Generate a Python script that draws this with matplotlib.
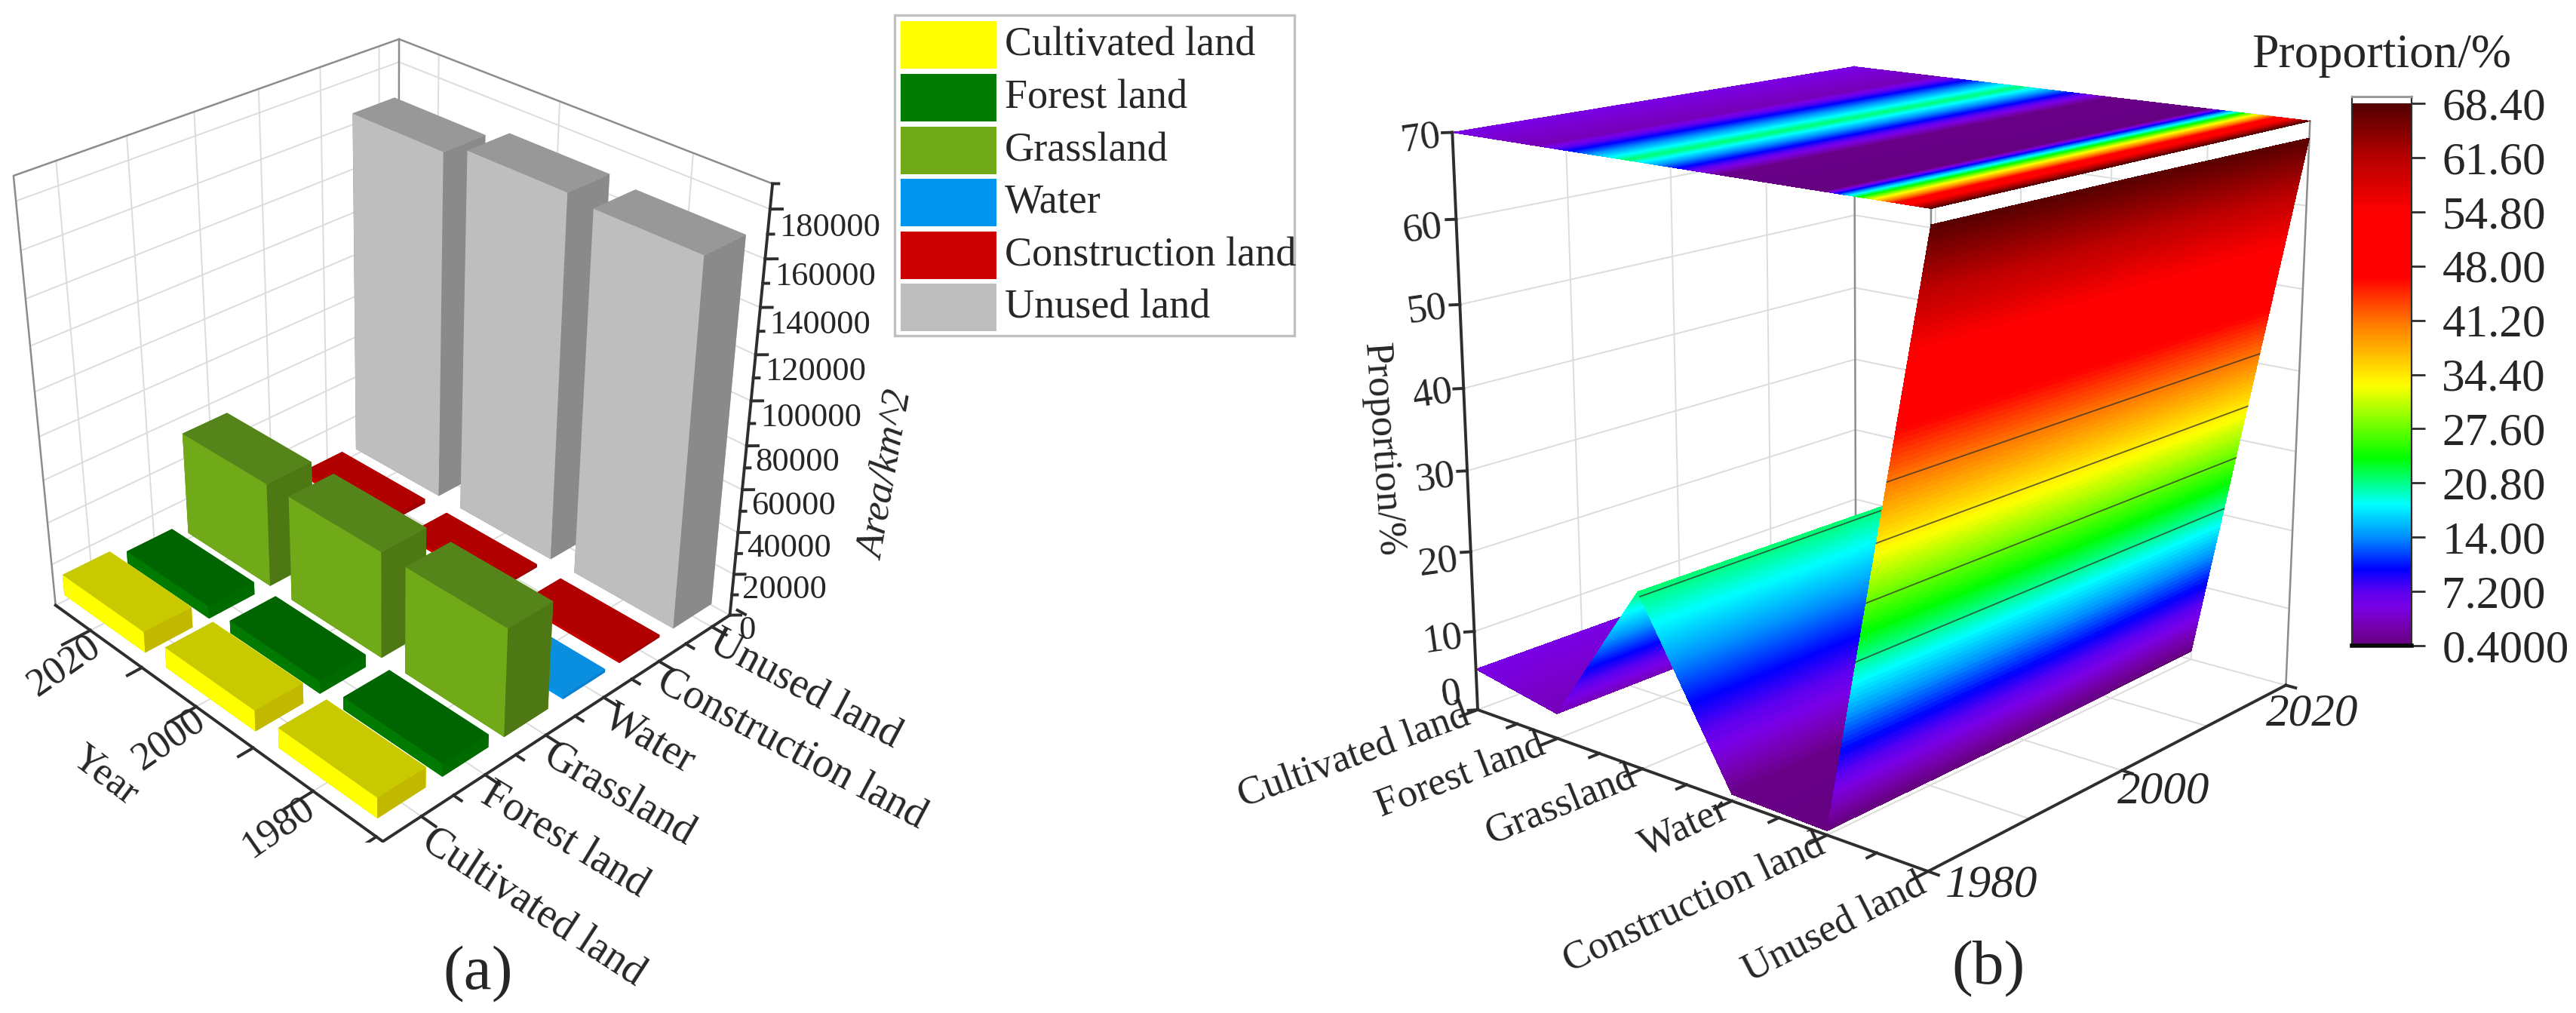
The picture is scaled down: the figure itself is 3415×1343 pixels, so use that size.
import numpy as np
import matplotlib
matplotlib.use('Agg')
import matplotlib.pyplot as plt
from matplotlib.colors import LinearSegmentedColormap, Normalize
from matplotlib.patches import Rectangle

plt.rcParams['font.family'] = ['Liberation Serif', 'DejaVu Serif']

W, H = 3416, 1343
TXT = '#262626'

# values
land = ['Cultivated land', 'Forest land', 'Grassland', 'Water', 'Construction land', 'Unused land']
years = [1980, 2000, 2020]

cultivated = [9500, 9800, 10000]
forest = [6000, 6000, 6000]
grassland = [50000, 50000, 49500]
water = [1500, 1500, 1600]
construction = [1200, 1500, 2200]
unused = [166000, 168000, 163000]

prop_1980 = [5.2, 3.1, 21.3, 0.8, 0.5, 68.4]
prop_2000 = [5.2, 3.1, 21.2, 0.8, 0.6, 68.3]
prop_2020 = [5.3, 3.1, 21.0, 0.9, 1.1, 68.0]

area_ticks = list(range(0, 180001, 20000))
prop_ticks = [0, 10, 20, 30, 40, 50, 60, 70]
bar_ticks = [68.40, 61.60, 54.80, 48.00, 41.20, 34.40, 27.60, 20.80, 14.00, 7.200, 0.4000]
bar_labels = ['68.40', '61.60', '54.80', '48.00', '41.20', '34.40', '27.60', '20.80', '14.00', '7.200', '0.4000']
contours = [20.8, 27.6, 34.4, 41.2]

# left face, top, right face colours of the bars
bar_colors = {
    'Cultivated land': ('#ffff00', '#c9c900', '#c2b800'),
    'Forest land': ('#007a00', '#006400', '#006c00'),
    'Grassland': ('#70aa18', '#54841a', '#4d7814'),
    'Water': ('#0096ee', '#0a8fe0', '#0a80d0'),
    'Construction land': ('#cc0000', '#b00000', '#a00000'),
    'Unused land': ('#bebebe', '#989898', '#8a8a8a'),
}

fig = plt.figure(figsize=(W / 100, H / 100), dpi=100)


def px_text(x, y, s, **kw):
    kw.setdefault('color', TXT)
    kw.setdefault('ha', 'center')
    kw.setdefault('va', 'center')
    kw.setdefault('rotation_mode', 'anchor')
    fig.text(x / W, 1 - y / H, s, **kw)


def make_axes(left, bottom, size, elev, azim, focal, aspect):
    ax = fig.add_axes([left / W, bottom / H, size / W, size / H], projection='3d',
                      computed_zorder=False)
    ax.view_init(elev=elev, azim=azim)
    ax.set_proj_type('persp', focal_length=focal)
    ax.set_box_aspect(aspect)
    ax.set_axis_off()
    ax.patch.set_visible(False)
    return ax


# ---------- panel (a) ----------
ax = make_axes(-57.3, 226.0, 1122.6, 31.02, -133.65, 0.476, (1.008, 1.01, 1.0))
x0, x1, y0, y1, z0, z1 = 0.42, 6.35, 1969, 2027, 0, 190000
ax.set_xlim(x0, x1)
ax.set_ylim(y0, y1)
ax.set_zlim(z0, z1)

GRID = dict(color='#dcdcdc', lw=1.4, zorder=1)
EDGE = dict(color='#8c8c8c', lw=1.8, zorder=2)
AXIS = dict(color='#2e2e2e', lw=2.8, zorder=2)

for z in area_ticks:
    ax.plot([x0, x1, x1], [y1, y1, y0], [z, z, z], **GRID)
for i in range(len(land)):
    ax.plot([i + 1, i + 1], [y1, y1], [z0, z1], **GRID)
    ax.plot([i + 1, i + 1], [y0, y1], [z0, z0], **GRID)
for yr in years:
    ax.plot([x1, x1], [yr, yr], [z0, z1], **GRID)
    ax.plot([x0, x1], [yr, yr], [z0, z0], **GRID)

ax.plot([x0, x0, x1, x1], [y1, y1, y1, y0], [z0, z1, z1, z1], **EDGE)
ax.plot([x1, x1], [y1, y1], [z0, z1], **EDGE)
ax.plot([x1, x0, x0], [y0, y0, y1], [z0, z0, z0], **AXIS)
ax.plot([x1, x1], [y0, y0], [z0, z1], **AXIS)

for i in range(len(land)):
    ax.plot([i + 1, i + 1], [y0, y0 - 2.2], [z0, z0], **AXIS)
    ax.plot([i + 1.5, i + 1.5], [y0, y0 - 1.2], [z0, z0], **AXIS)
for yr in years:
    ax.plot([x0, x0 - 0.42], [yr, yr], [z0, z0], **AXIS)
    ax.plot([x0, x0 - 0.22], [yr - 10, yr - 10], [z0, z0], **AXIS)
for z in area_ticks:
    ax.plot([x1, x1 + 0.1], [y0, y0 - 0.9], [z, z], **AXIS)
    ax.plot([x1, x1 + 0.05], [y0, y0 - 0.45], [z + 10000, z + 10000], **AXIS)
    ax.text(x1 + 0.07, y0 - 1.0, z - 7000, str(z), fontsize=32, color=TXT, rotation=-19,
            ha='left', va='center', rotation_mode='anchor', zorder=3)

series = [cultivated, forest, grassland, water, construction, unused]
bar_w, bar_d = 0.74, 16.0
for i, (name, vals) in enumerate(zip(land, series)):
    left_c, top_c, right_c = bar_colors[name]
    for j, yr in enumerate(years):
        # faces: -z +z -y +y -x +x
        ax.bar3d(i + 1 - bar_w / 2, yr - bar_d / 2, 0, bar_w, bar_d, vals[j],
                 color=[top_c, top_c, right_c, right_c, left_c, left_c], shade=False,
                 edgecolor='none', linewidth=0, zorder=50 - i - j)

tick_rot = [-33, -31, -30, -30, -28, -28]
tick_pos = [(564, 1110), (642, 1050), (725, 998), (804, 947), (875, 900), (945, 848)]
for name, (tx, ty), r in zip(land, tick_pos, tick_rot):
    px_text(tx, ty, name, fontsize=40, rotation=r, ha='left')
year_pos = [(369, 1097), (224, 981), (85, 883)]
for yr, (tx, ty) in zip(years, year_pos):
    px_text(tx, ty, str(yr), fontsize=38, rotation=35)
px_text(139, 1028, 'Year', fontsize=38, rotation=-37)
px_text(1176, 630, 'Area/km^2', fontsize=38, rotation=80, style='italic')
px_text(634, 1292, '(a)', fontsize=60)

# legend
fig.add_artist(Rectangle((1186 / W, 1 - 445 / H), 530 / W, 425 / H, transform=fig.transFigure,
                         fc='white', ec='#c0c0c0', lw=2.4))
swatch_top = [28, 98, 168, 237, 307, 376]
for name, top in zip(land, swatch_top):
    fig.add_artist(Rectangle((1194 / W, 1 - (top + 63) / H), 127 / W, 63 / H,
                             transform=fig.transFigure, fc=bar_colors[name][0], ec='none'))
    px_text(1332, top + 32, name, fontsize=39, ha='left')

# ---------- panel (b) ----------
bx = make_axes(1824.8, 109.2, 1317.1, 15.535, -49.858, 0.496, (1.0, 0.995, 1.0))
u0, u1, v0, v1, w0, w1 = 1, 6, 1980, 2020, 0, 70
bx.set_xlim(u0, u1)
bx.set_ylim(v0, v1)
bx.set_zlim(w0, w1)

cmap = LinearSegmentedColormap.from_list('prop', [
    (0.0, '#3a004a'), (0.0008, '#650080'), (0.03, '#7400a8'), (0.07, '#7a00e6'),
    (0.10, '#5a00f0'), (0.14, '#0000ff'), (0.20, '#0090ff'), (0.26, '#00ffff'),
    (0.345, '#00ff00'), (0.48, '#ffff00'), (0.59, '#ff8000'), (0.68, '#ff0000'),
    (0.80, '#ff0000'), (0.90, '#b80000'), (1.0, '#520000')], N=4096)
norm = Normalize(0.4, 68.4)

for z in prop_ticks:
    bx.plot([u0, u0, u1], [v0, v1, v1], [z, z, z], **GRID)
for yr in [1990, 2000, 2010]:
    bx.plot([u0, u0, u1], [yr, yr, yr], [w1, w0, w0], **GRID)
for i in range(2, 6):
    bx.plot([i, i, i], [v0, v1, v1], [w0, w0, w1], **GRID)
bx.plot([u0, u0], [v1, v1], [w0, w1], **EDGE)
bx.plot([u1, u1], [v1, v1], [w0, w1], **EDGE)
bx.plot([u1, u1], [v0, v0], [w1 - 2.2, w1], **EDGE)

positions = np.arange(1, 7)
prop = np.array([prop_1980, prop_2000, prop_2020])

# the mesh is only refined to get the colour gradient between the read values
fine = np.linspace(u0, u1, 601)
Xf, Yf = np.meshgrid(fine, years)
Zf = np.array([np.interp(fine, positions, row) for row in prop])

split = np.searchsorted(fine, 5.0)
common = dict(rstride=1, cstride=1, shade=False, antialiased=False, linewidth=0)

bx.plot_surface(Xf, Yf, np.full_like(Zf, w1), facecolors=cmap(norm(Zf)), zorder=3, **common)
bx.plot_surface(Xf[:, :split + 1], Yf[:, :split + 1], Zf[:, :split + 1],
                facecolors=cmap(norm(Zf[:, :split + 1])), zorder=4, **common)
bx.plot_surface(Xf[:, split:], Yf[:, split:], Zf[:, split:],
                facecolors=cmap(norm(Zf[:, split:])), zorder=6, **common)

# contour lines on the ridge and on the wall
LINE = dict(color='#303030', lw=1.3, alpha=0.75)
ridge = [np.interp(20.8, [row[3], row[2]], [4, 3]) for row in prop]
bx.plot(ridge, years, [20.8] * 3, zorder=5, **LINE)
for c in contours:
    wall = [np.interp(c, [row[4], row[5]], [5, 6]) for row in prop]
    bx.plot(wall, years, [c] * 3, zorder=7, **LINE)

bx.plot([u0, u1, u1], [v0, v0, v1], [w0, w0, w0], zorder=8, color='#2e2e2e', lw=2.8)
bx.plot([u0, u0], [v0, v0], [w0, w1], zorder=8, color='#2e2e2e', lw=2.8)
for i in positions:
    bx.plot([i, i], [v0, v0 - 1.6], [w0, w0], zorder=8, color='#2e2e2e', lw=2.8)
    if i < 6:
        bx.plot([i + 0.5, i + 0.5], [v0, v0 - 0.9], [w0, w0], zorder=8, color='#2e2e2e', lw=2.8)
for yr in years:
    bx.plot([u1, u1 + 0.1], [yr, yr], [w0, w0], zorder=8, color='#2e2e2e', lw=2.8)
for z in prop_ticks:
    bx.plot([u0, u0 - 0.05], [v0, v0 - 0.5], [z, z], zorder=8, color='#2e2e2e', lw=2.8)

b_rot = [20, 21, 22, 25, 25, 27]
b_pos = [(1947, 947), (2046, 986), (2167, 1028), (2289, 1071), (2416, 1118), (2550, 1170)]
for name, (tx, ty), r in zip(land, b_pos, b_rot):
    px_text(tx, ty, name, fontsize=38, rotation=r, ha='right')
b_year_pos = [(2640, 1174), (2868, 1050), (3065, 947)]
for yr, (tx, ty) in zip(years, b_year_pos):
    px_text(tx, ty, str(yr), fontsize=44, style='italic')
z_pos = [(1924, 921), (1913, 848), (1907, 746), (1903, 634), (1899, 523), (1892, 411), (1886, 304), (1884, 184)]
for z, (tx, ty) in zip(prop_ticks, z_pos):
    px_text(tx, ty, str(z), fontsize=38, rotation=8)
px_text(1832, 596, 'Proportion/%', fontsize=38, rotation=-86)
px_text(2636, 1285, '(b)', fontsize=60)

# colour bar
cax = fig.add_axes([3118 / W, 1 - 856 / H, 79 / W, 728 / H])
grad = np.linspace(0.4, 68.4, 400).reshape(-1, 1)
cax.imshow(grad, origin='lower', aspect='auto', extent=[0, 1, 0.4, 68.4], cmap=cmap, norm=norm)
cax.set_xlim(0, 1)
cax.set_ylim(0.4, 0.4 + 68 * 728 / 719)
cax.set_xticks([])
cax.set_yticks(bar_ticks)
cax.yaxis.tick_right()
cax.set_yticklabels(bar_labels, fontsize=44, color=TXT)
cax.tick_params(axis='y', length=13, width=2, color='#2e2e2e', pad=16)
for side in ['left', 'right']:
    cax.spines[side].set_color('#2e2e2e')
    cax.spines[side].set_linewidth(1.6)
cax.spines['bottom'].set_color('#0a0a0a')
cax.spines['bottom'].set_linewidth(4)
cax.spines['top'].set_color('#9a9a9a')
cax.spines['top'].set_linewidth(2.2)
px_text(3157, 74, 'Proportion/%', fontsize=46)

fig.savefig('out.png', dpi=100)
